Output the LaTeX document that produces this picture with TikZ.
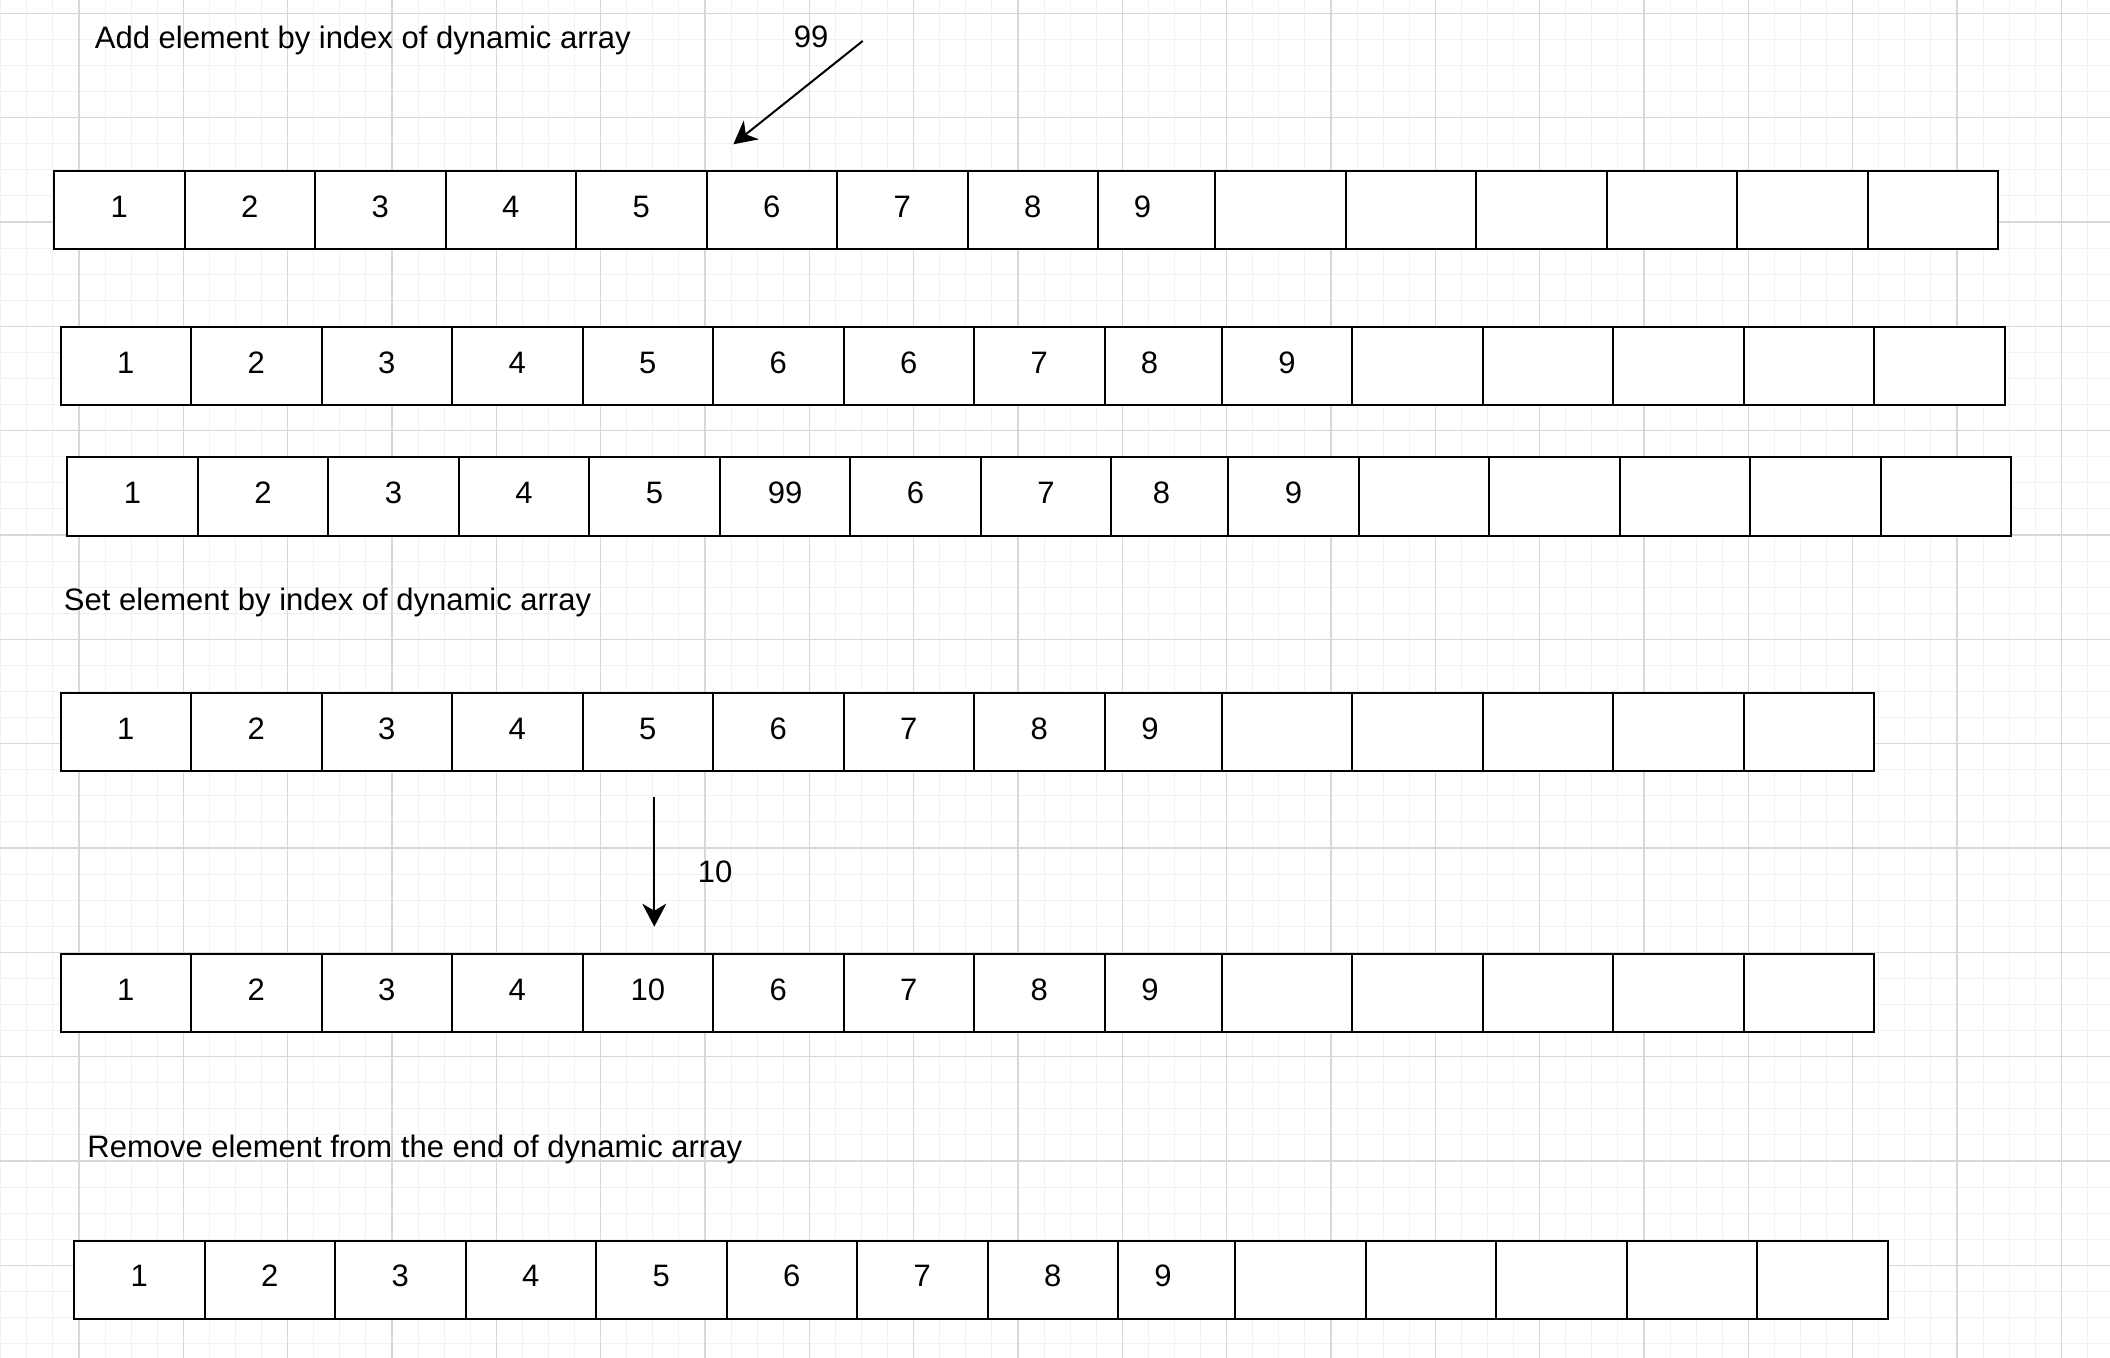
\documentclass[tikz,border=0pt]{standalone}
\usepackage{fontspec}
\setmainfont{Liberation Sans}
\usetikzlibrary{arrows.meta}
\definecolor{minorgrid}{HTML}{F1F1F1}
\definecolor{majorgrid}{HTML}{D8D8D8}
\tikzset{
  cell/.style={draw=black, line width=1pt, fill=white, minimum height=39pt,
    inner sep=0pt, outer sep=0pt, anchor=north west},
  num/.style={font=\fontsize{15.5pt}{18pt}\selectfont, anchor=base, inner sep=0pt},
  caption/.style={font=\fontsize{15.5pt}{18pt}\selectfont, anchor=base west, inner sep=0pt},
  arr/.style={-{Stealth[length=11.5pt,width=12pt,inset=3.5pt]}, line width=1pt},
  gminor/.style={draw=minorgrid, line width=0.5pt},
  gmajor/.style={draw=majorgrid, line width=0.6pt},
}
% #1 row id, #2 x0, #3 ytop, #4 number of cells after the narrow one
\newcommand\dynrow[4]{%
  \foreach \k in {1,...,8}
    \node[cell, minimum width=65.25pt] (#1c\k) at ({#2+130.5*(\k-1)}, #3) {};
  \node[cell, minimum width=58.5pt] (#1c9) at ({#2+1044}, #3) {};
  \foreach \k in {1,...,#4}
    \node[cell, minimum width=65.25pt] (#1e\k) at ({#2+1161+130.5*(\k-1)}, #3) {};
}
% #1 row id, #2 x0, #3 baseline, #4 labels of the first eight cells
\newcommand\dynlabels[4]{%
  \foreach \t [count=\k] in {#4}
    \node[num] (#1l\k) at ({#2+130.5*\k-65.25}, #3) {\t};
}
\begin{document}
\begin{tikzpicture}[x=0.5pt, y=-0.5pt]
  \fill[white] (0,0) rectangle (2110,1358);
  \useasboundingbox (0,0) rectangle (2110,1358);
  % grid
  \foreach \i in {0,...,80}
    \draw[gminor] ({0.76+26.083*\i},0) -- ({0.76+26.083*\i},1358);
  \foreach \i in {0,...,51}
    \draw[gminor] (0,{13.3+26.083*\i}) -- (2110,{13.3+26.083*\i});
  \foreach \i in {1,...,20}
    \draw[gmajor] ({-25.33+104.33*\i},0) -- ({-25.33+104.33*\i},1358);
  \foreach \i in {0,...,12}
    \draw[gmajor] (0,{13.3+104.33*\i}) -- (2110,{13.3+104.33*\i});

  % captions
  \node[caption] (t1) at (94.5,48.5) {Add element by index of dynamic array};
  \node[caption] (t2) at (63.5,610) {Set element by index of dynamic array};
  \node[caption] (t3) at (87,1157.5) {Remove element from the end of dynamic array};

  % row 1
  \dynrow{r1}{54}{171}{6}
  \dynlabels{r1}{54}{217.3}{1,2,3,4,5,6,7,8}
  \node[num] (r1l9) at (1142.5,217.3) {9};
  % row 2
  \dynrow{r2}{60.6}{327.5}{6}
  \dynlabels{r2}{60.6}{373.8}{1,2,3,4,5,6,6,7}
  \node[num] (r2l9) at (1149.5,373.8) {8};
  \node[num] (r2l10) at (1287,373.8) {9};
  % row 3
  \dynrow{r3}{67.3}{457.5}{6}
  \dynlabels{r3}{67.3}{503.8}{1,2,3,4,5,99,6,7}
  \node[num] (r3l9) at (1161.5,503.8) {8};
  \node[num] (r3l10) at (1293.5,503.8) {9};
  % row 4
  \dynrow{r4}{60.6}{693}{5}
  \dynlabels{r4}{60.6}{739.3}{1,2,3,4,5,6,7,8}
  \node[num] (r4l9) at (1150,739.3) {9};
  % row 5
  \dynrow{r5}{60.6}{954}{5}
  \dynlabels{r5}{60.6}{1000.3}{1,2,3,4,10,6,7,8}
  \node[num] (r5l9) at (1150,1000.3) {9};
  % row 6
  \dynrow{r6}{74}{1240.5}{5}
  \dynlabels{r6}{74}{1286.8}{1,2,3,4,5,6,7,8}
  \node[num] (r6l9) at (1163,1286.8) {9};

  % insert arrow
  \node[num] (v99) at (811,47.8) {99};
  \coordinate (a1s) at (862.7,41);
  \coordinate (a1e) at (733.3,144.3);
  \draw[arr] (a1s) -- (a1e);
  % set arrow
  \node[num] (v10) at (715,882.8) {10};
  \coordinate (a2s) at (654.3,797.3);
  \coordinate (a2e) at (654.3,926.7);
  \draw[arr] (a2s) -- (a2e);
\end{tikzpicture}
\end{document}
